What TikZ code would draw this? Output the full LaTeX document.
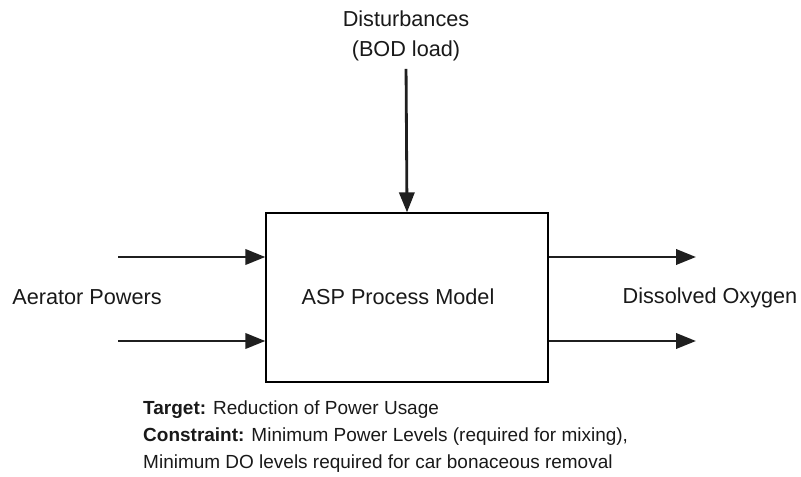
\documentclass[tikz,border=0pt]{standalone}
\usepackage{fontspec}
\setmainfont{Liberation Sans}
\usetikzlibrary{arrows.meta,positioning}

\begin{document}
\begin{tikzpicture}[x=0.03cm, y=-0.03cm, >={Triangle[length=17pt,width=13pt]},
        lbl/.style={font=\fontsize{18.5}{25}\selectfont, text=black!90, align=center},
        flow/.style={->, line width=2.4pt, black!88}]
        \useasboundingbox (0,0) rectangle (801,477);

        \node (proc) [rectangle, draw, line width=1.1pt, minimum width=8.46cm, minimum height=5.07cm, lbl] at (407,297.5) {};
        \node (name) [lbl] at (398,297) {ASP Process Model};
        \node (dist) [lbl, inner sep=1pt] at (406,36) {Disturbances\\(BOD load)};
        \node (aer) [lbl] at (87,297) {Aerator Powers};
        \node (dox) [lbl] at (710,298) {Dissolved Oxygen};
        \node (note) [anchor=north west, align=left, inner sep=0pt, text=black!90,
            font=\fontsize{16.2}{23}\selectfont] at (143,401)
            {\textbf{Target:} Reduction of Power Usage\\
             \textbf{Constraint:} Minimum Power Levels (required for mixing),\\
             Minimum DO levels required for car bonaceous removal};

        % inputs and outputs
        \coordinate (in1) at (118,257);
        \coordinate (in2) at (118,341);
        \coordinate (out1) at (696,257);
        \coordinate (out2) at (696,341);

        \draw [flow, shorten <=0.2cm] (dist.south) -- (proc.north);
        \draw [flow] (in1) -- (in1 -| proc.west);
        \draw [flow] (in2) -- (in2 -| proc.west);
        \draw [flow] (out1 -| proc.east) -- (out1);
        \draw [flow] (out2 -| proc.east) -- (out2);
    \end{tikzpicture}
\end{document}
